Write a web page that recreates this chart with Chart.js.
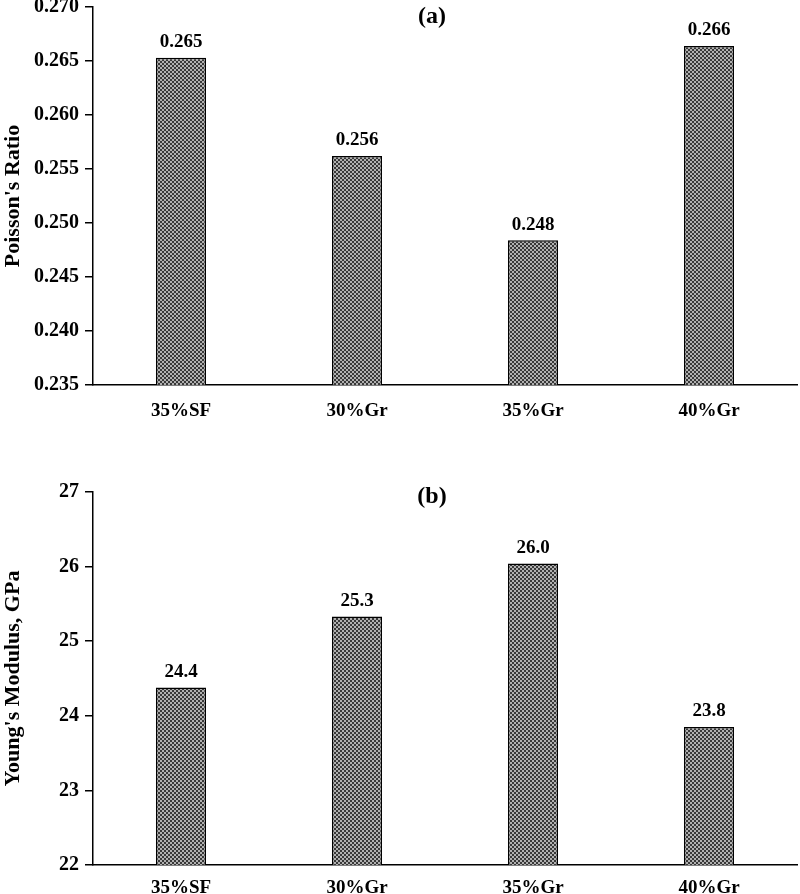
<!DOCTYPE html>
<html>
<head>
<meta charset="utf-8">
<script src="https://cdn.jsdelivr.net/npm/chart.js@4.4.1/dist/chart.umd.min.js"></script>
<style>
  body { margin: 0; background: #fff; overflow: hidden; }
  #boxA { position: absolute; left: 0; top: -11px; width: 800px; height: 441px; }
  #boxB { position: absolute; left: 0; top: 430px; width: 800px; height: 464px; }
</style>
</head>
<body>
<div id="boxA"><canvas id="chartA"></canvas></div>
<div id="boxB"><canvas id="chartB"></canvas></div>
<script>
// data
const mixes = ['35%SF', '30%Gr', '35%Gr', '40%Gr'];
const poisson = [0.2653, 0.2562, 0.2484, 0.2664];
const poissonLabels = ['0.265', '0.256', '0.248', '0.266'];
const young = [24.38, 25.33, 26.04, 23.85];
const youngLabels = ['24.4', '25.3', '26.0', '23.8'];

const FONT = 'Liberation Serif, Times New Roman, serif';

// checker fill like the excel pattern
const makePattern = () => {
    const c = document.createElement('canvas');
    c.width = 4; c.height = 4;
    const g = c.getContext('2d');
    g.fillStyle = '#b0b0b0';
    g.fillRect(0, 0, 4, 4);
    g.fillStyle = '#383838';
    g.fillRect(0, 0, 2, 2);
    g.fillRect(2, 2, 2, 2);
    return g.createPattern(c, 'repeat');
};

// value labels over bars + panel letter
const labelPlugin = {
    id: 'labelPlugin',
    afterDatasetsDraw(chart, args, opts) {
        const ctx = chart.ctx;
        const meta = chart.getDatasetMeta(0);
        ctx.save();
        ctx.fillStyle = '#000';
        ctx.textAlign = 'center';
        ctx.textBaseline = 'bottom';
        ctx.font = 'bold 19px ' + FONT;
        meta.data.forEach((bar, i) => {
            ctx.fillText(opts.texts[i], bar.x, bar.y - 6);
        });
        ctx.font = 'bold 24px ' + FONT;
        ctx.textBaseline = 'middle';
        ctx.fillText(opts.panel, 432, opts.panelY);
        ctx.restore();
    }
};

const barChart = (canva, data, texts, panel, panelY, yTitle, yMin, yMax, yStep, dec, pad, xH, xPad) => {
    return new Chart(canva, {
        type: 'bar',
        data: {
            labels: mixes,
            datasets: [{
                data: data,
                backgroundColor: makePattern(),
                borderColor: '#000',
                borderWidth: 1.5,
                borderSkipped: 'bottom',
                categoryPercentage: 1,
                barPercentage: 0.285
            }]
        },
        options: {
            maintainAspectRatio: false,
            animation: false,
            layout: { padding: pad },
            plugins: {
                legend: { display: false },
                tooltip: { enabled: false },
                labelPlugin: { texts: texts, panel: panel, panelY: panelY }
            },
            scales: {
                x: {
                    grid: { display: false },
                    border: { color: '#000', width: 1.5 },
                    ticks: { color: '#000', font: { family: FONT, size: 19, weight: 'bold' }, padding: xPad },
                    afterFit: (scale) => { scale.height = xH; }
                },
                y: {
                    min: yMin,
                    max: yMax,
                    grid: { drawOnChartArea: false, color: '#000', tickLength: 8, lineWidth: 1.5 },
                    border: { color: '#000', width: 1.5 },
                    ticks: {
                        stepSize: yStep,
                        color: '#000',
                        padding: 6,
                        font: { family: FONT, size: 20, weight: 'bold' },
                        callback: (v) => v.toFixed(dec)
                    },
                    title: {
                        display: true,
                        text: yTitle,
                        color: '#000',
                        padding: { top: 0, bottom: 4 },
                        font: { family: FONT, size: 22, weight: 'bold' }
                    },
                    afterFit: (scale) => { scale.width = 93; }
                }
            }
        },
        plugins: [labelPlugin]
    });
};

barChart(document.getElementById('chartA'), poisson, poissonLabels, '(a)', 28,
    "Poisson's Ratio", 0.235, 0.270, 0.005, 3, { top: 0, right: 3, left: 0, bottom: 0 }, 45, 7);
barChart(document.getElementById('chartB'), young, youngLabels, '(b)', 67,
    "Young's Modulus, GPa", 22, 27, 1, 0, { top: 62, right: 3, left: 0, bottom: 0 }, 29, 4);
</script>
</body>
</html>
